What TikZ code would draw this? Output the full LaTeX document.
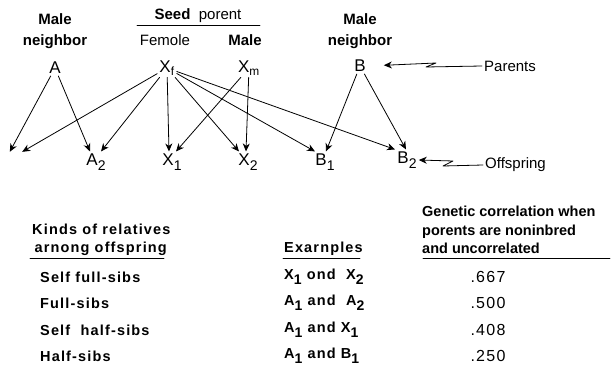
\documentclass[tikz,border=0pt]{standalone}
\usepackage{fontspec}
\setmainfont{Liberation Sans}
\newfontfamily\spacedfont[LetterSpace=8]{Liberation Sans}
\usetikzlibrary{arrows.meta}
\tikzset{
  every picture/.style={
    line join=round,
    line cap=round,
    >={Stealth[length=8pt,width=7pt,inset=2.5pt]},
  },
  gen/.style={font=\fontsize{17}{18}\selectfont, inner sep=2pt},
  hdr/.style={font=\fontsize{15}{21}\selectfont\bfseries, align=center, inner sep=0pt},
  tab/.style={font=\spacedfont\fontsize{14.5}{18.5}\selectfont\bfseries, inner sep=0pt, anchor=west},
  val/.style={font=\spacedfont\fontsize{16}{16}\selectfont, inner sep=0pt},
  link/.style={->, line width=0.8pt},
}
\newcommand{\lowsub}[1]{\raisebox{-5pt}{\fontsize{14}{14}\selectfont #1}}

\begin{document}
\begin{tikzpicture}[x=1pt, y=-1pt]
\useasboundingbox (0,0) rectangle (611,367);
% Headings over the parents
\node[hdr] (lnb) at (55,31) {Male\\neighbor};
\node[gen, font=\fontsize{15}{16}\selectfont] (seed) at (198,16) {\textbf{Seed}\ \ porent};
\draw[line width=0.8pt] (137,25) -- (260,25);
\node[gen, font=\fontsize{15}{16}\selectfont] (fem) at (165,40) {Femole};
\node[hdr] (mal) at (245,40) {Male};
\node[hdr] (rnb) at (360,31) {Male\\neighbor};

% Parents
\node[gen] (a) at (55,68) {A};
\node[gen] (xf) at (167,68) {X\textsubscript{f}};
\node[gen] (xm) at (249,68) {X\textsubscript{m}};
\node[gen] (b) at (360,66) {B};
\node[gen, font=\fontsize{15}{16}\selectfont, anchor=west] (par) at (482,66) {Parents};

% Offspring
\node[minimum width=12pt, minimum height=8pt, inner sep=0pt] (a1) at (16,156) {};
\node[gen] (a2) at (96,162) {A\lowsub{2}};
\node[gen] (x1) at (172,162) {X\lowsub{1}};
\node[gen] (x2) at (248,162) {X\lowsub{2}};
\node[gen] (b1) at (325,162) {B\lowsub{1}};
\node[gen] (b2) at (407,160) {B\lowsub{2}};
\node[gen, font=\fontsize{15}{16}\selectfont, anchor=west] (off) at (483,165) {Offspring};

% Mappings
\draw[link] (a) -- (a1.north west);
\draw[link] (a) -- ([xshift=-6pt]a2.north);
\draw[link] (xf) -- (a1.north east);
\draw[link] (xf) -- ([xshift=5pt]a2.north);
\draw[link] (xf) -- ([xshift=-3pt]x1.north);
\draw[link] (xf) -- ([xshift=-9pt]x2.north);
\draw[link] (xf) -- ([xshift=-10pt]b1.north);
\draw[link] (xf) -- ([xshift=-12pt]b2.north);
\draw[link] (xm) -- ([xshift=4pt]x1.north);
\draw[link] (xm) -- ([xshift=-2pt]x2.north);
\draw[link] (b) -- ([xshift=1pt]b1.north);
\draw[link] (b) -- ([xshift=-1pt]b2.north);

% Zigzag leaders
\draw[link, shorten >=16pt] (par.west) -- ++(-56,1) -- ++(10,-4) -- (b.east);
\draw[link] (off.west) -- ++(-40,1) -- ++(10,-5) -- (b2.east);

% Table
\node[tab, align=left] (kind) at (32,240) {Kinds of relatives\\\,arnong offspring};
\draw[line width=0.8pt] (30,258) -- (164,258);
\node[tab] (expl) at (284,249) {Exarnples};
\draw[line width=0.8pt] (283,258) -- (360,258);
\node[tab, align=left, font=\fontsize{14.5}{18.5}\selectfont\bfseries] (corr) at (422,230) {Genetic correlation when\\porents are noninbred\\and uncorrelated};
\draw[line width=0.8pt] (423,258) -- (610,258);

\foreach \y/\k/\e/\r [count=\i] in {
  277/Self\ full-sibs/X\lowsub{1} ond\ \ X\lowsub{2}/.667,
  303/Full-sibs/A\lowsub{1} and\ \ A\lowsub{2}/.500,
  330/Self\ \ half-sibs/A\lowsub{1} and X\lowsub{1}/.408,
  356/Half-sibs/A\lowsub{1} and B\lowsub{1}/.250}{
  \node[tab] (k\i) at (40,\y) {\k};
  \node[tab] (e\i) at (284,\y) {\e};
  \node[val] (r\i) at (488,\y) {\r};
}
\end{tikzpicture}
\end{document}
